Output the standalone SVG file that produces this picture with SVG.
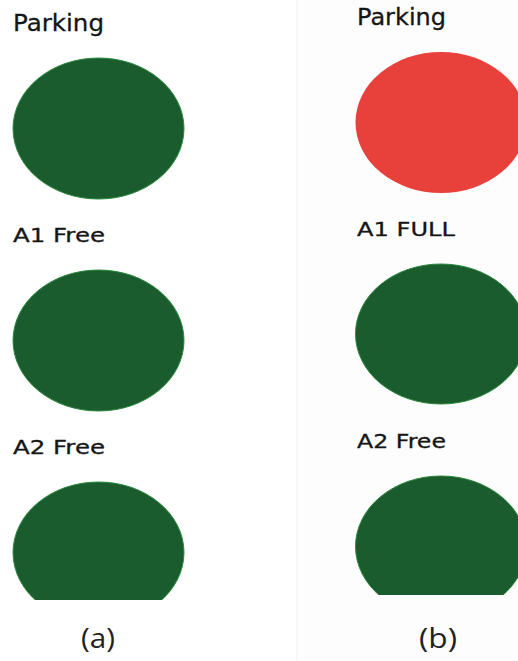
<svg xmlns="http://www.w3.org/2000/svg" width="518" height="661" viewBox="0 0 518 661">
<style>
.lbl{font-family:"DejaVu Sans","Liberation Sans",sans-serif;fill:#161616;stroke:#161616;stroke-width:0.3}
.big{font-size:22.5px}
.sm{font-size:19.5px}
.cap{font-family:"Open Sans","DejaVu Sans",sans-serif;font-size:27px;fill:#222}
.g{fill:#1a5c2e;stroke:#2a8a3c;stroke-width:1}
.r{fill:#e8403b}
</style>
<defs>
<clipPath id="clipA"><rect x="0" y="0" width="518" height="600"/></clipPath>
<clipPath id="clipB"><rect x="0" y="0" width="518" height="595"/></clipPath>
</defs>
<rect width="518" height="661" fill="#ffffff"/>
<rect x="297" y="0" width="221" height="661" fill="#fdfdfd"/>
<line x1="297" y1="0" x2="297" y2="661" stroke="#f0f0f0" stroke-width="1"/>
<g id="panel-a">
<g id="a-parking">
<text class="lbl big" x="13" y="31" textLength="91" lengthAdjust="spacingAndGlyphs">Parking</text>
<ellipse class="g" cx="98.5" cy="128.5" rx="85.5" ry="70.5"/>
</g>
<g id="a-a1">
<text class="lbl sm" x="13" y="242" textLength="92" lengthAdjust="spacingAndGlyphs">A1 Free</text>
<ellipse class="g" cx="98.5" cy="340.5" rx="85.5" ry="70.5"/>
</g>
<g id="a-a2">
<text class="lbl sm" x="13" y="454" textLength="92" lengthAdjust="spacingAndGlyphs">A2 Free</text>
<ellipse class="g" cx="98.5" cy="552.5" rx="85.5" ry="70.5" clip-path="url(#clipA)"/>
</g>
<text class="cap" x="81" y="648" textLength="34" lengthAdjust="spacingAndGlyphs">(a)</text>
</g>
<g id="panel-b">
<g id="b-parking">
<text class="lbl big" x="357" y="25" textLength="89" lengthAdjust="spacingAndGlyphs">Parking</text>
<ellipse class="r" cx="441" cy="122.5" rx="85.5" ry="70.5"/>
</g>
<g id="b-a1">
<text class="lbl sm" x="357" y="236" textLength="98" lengthAdjust="spacingAndGlyphs">A1 FULL</text>
<ellipse class="g" cx="441" cy="334" rx="85.5" ry="70"/>
</g>
<g id="b-a2">
<text class="lbl sm" x="357" y="448" textLength="89" lengthAdjust="spacingAndGlyphs">A2 Free</text>
<ellipse class="g" cx="441" cy="546.5" rx="85.5" ry="70.5" clip-path="url(#clipB)"/>
</g>
<text class="cap" x="419" y="648" textLength="38" lengthAdjust="spacingAndGlyphs">(b)</text>
</g>
<g id="connectors"/>
</svg>
